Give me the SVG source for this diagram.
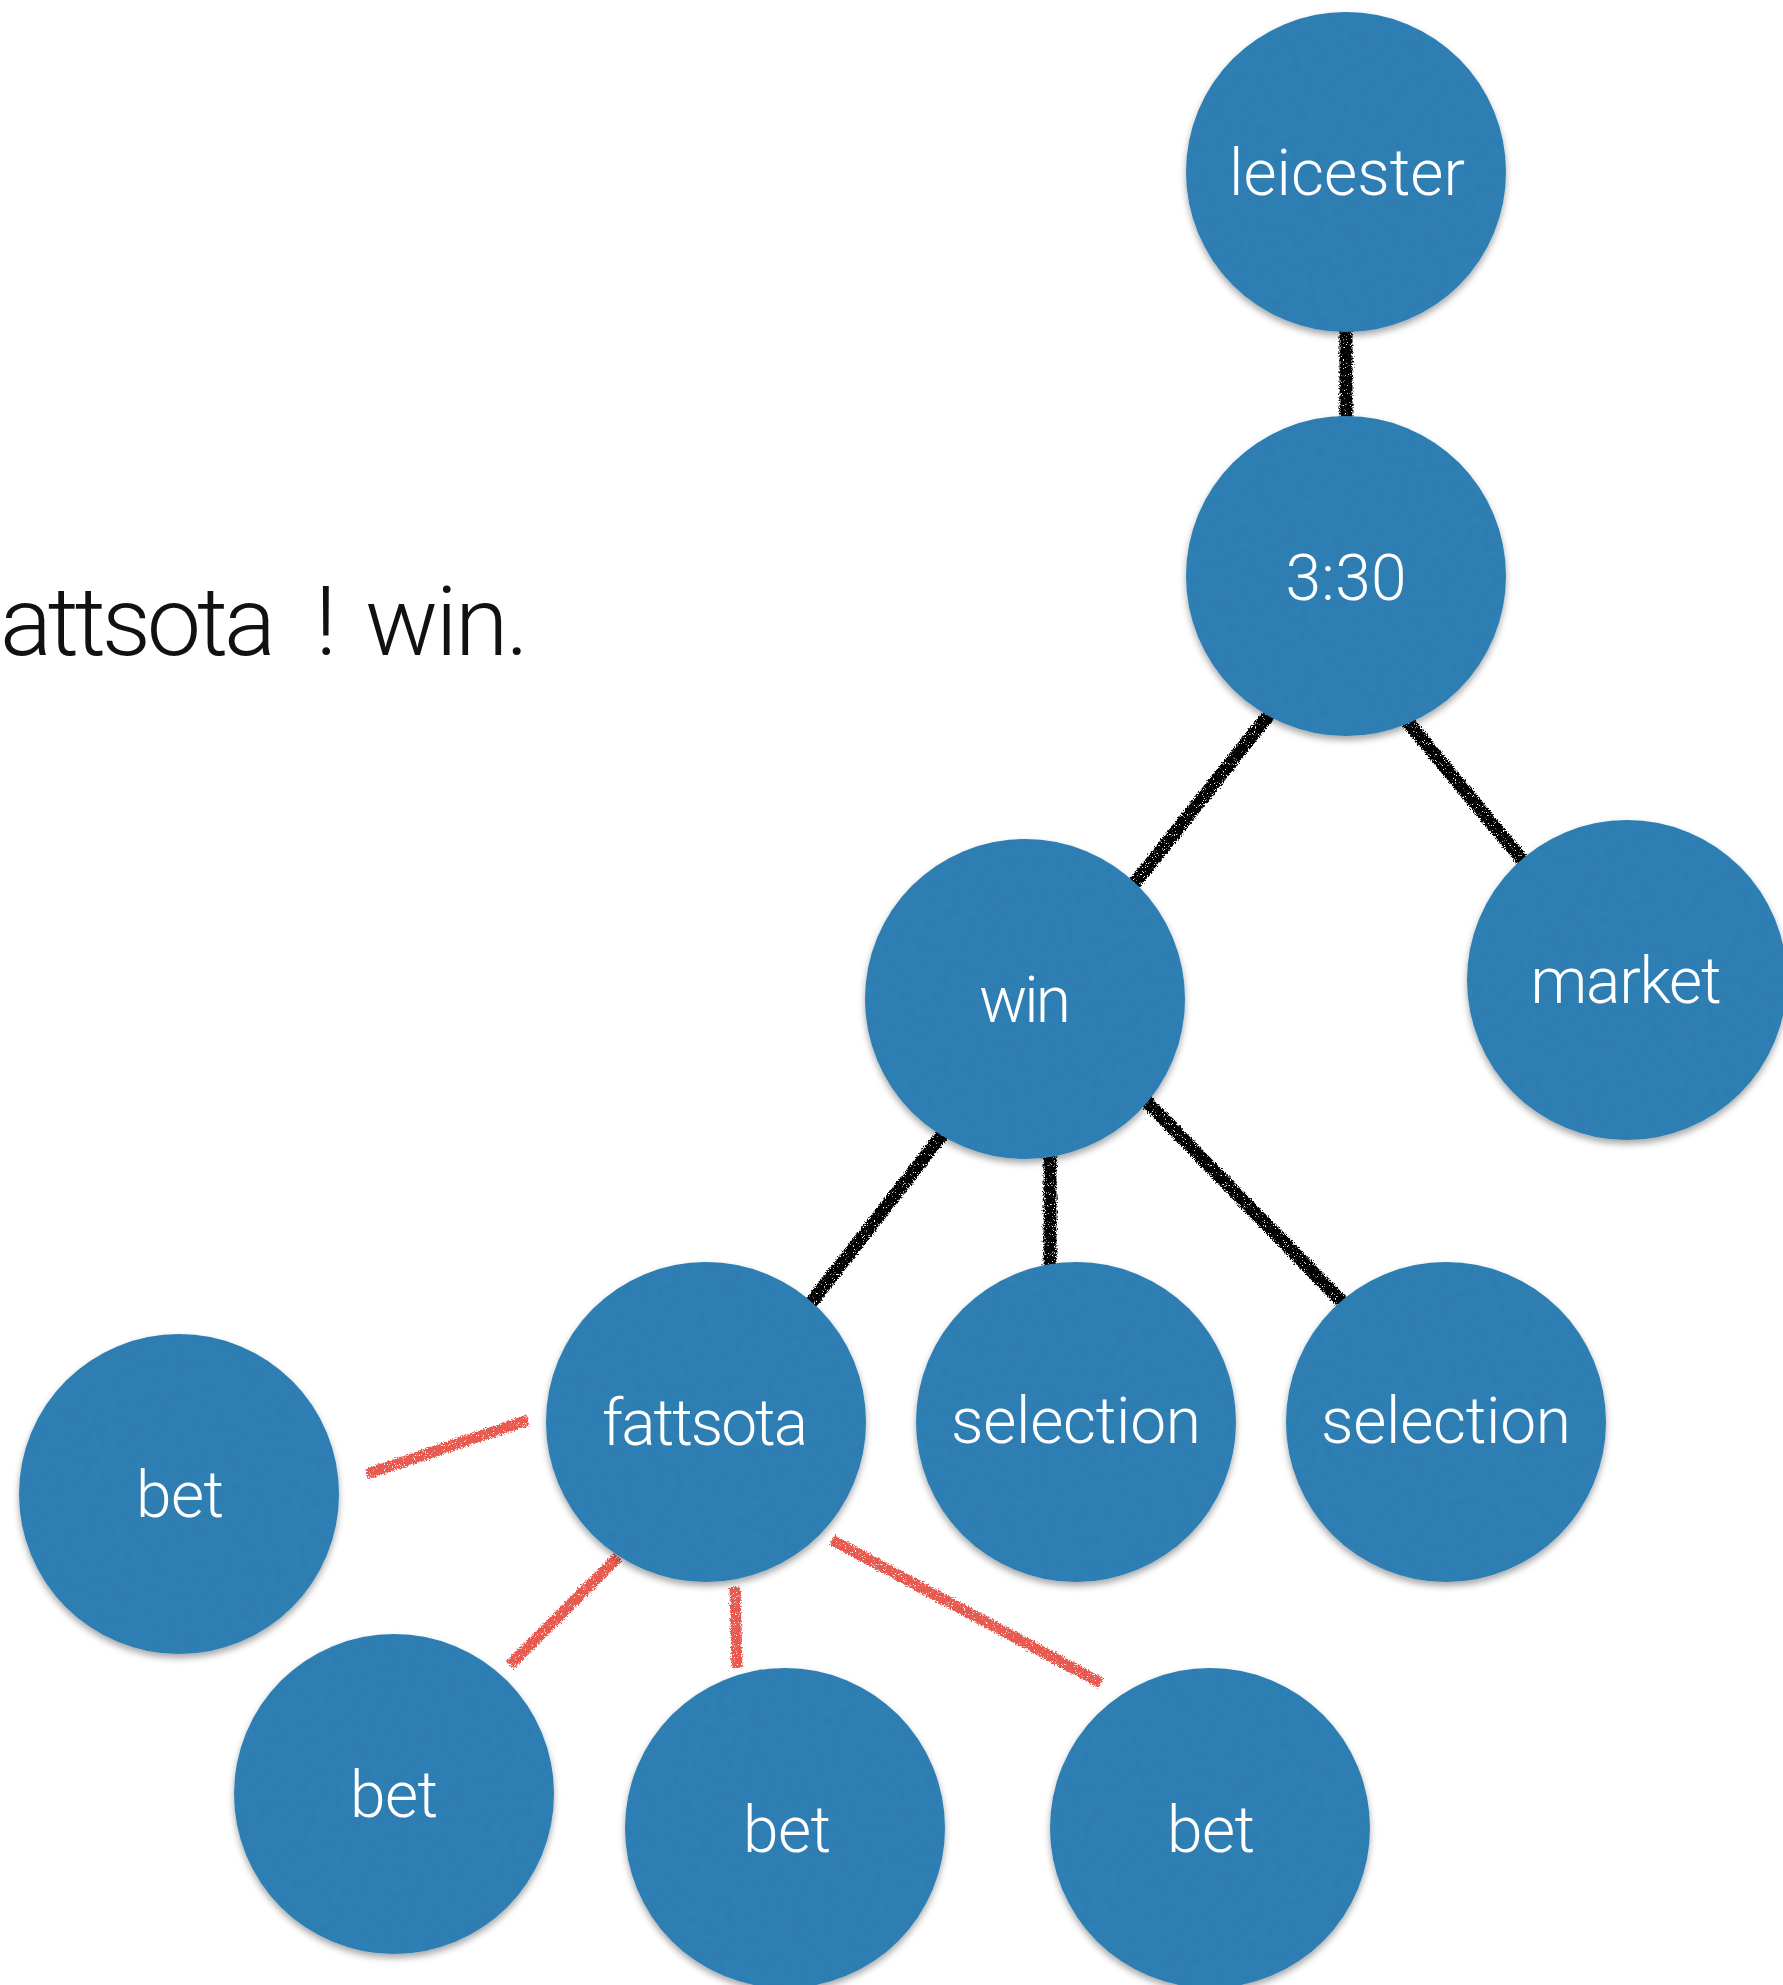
<svg xmlns="http://www.w3.org/2000/svg" width="1783" height="1985" viewBox="0 0 1783 1985">
  <style>
    .node circle { fill: #3281b7; filter: url(#paper); }
    .node text { fill: #ffffff; font-family: "Helvetica Neue", Roboto, Inter, "Liberation Sans", sans-serif; font-weight: 300; font-size: 64px; text-anchor: middle; }
    .edge { fill: none; stroke-linecap: butt; filter: url(#chalk); }
    .edge.black { stroke: #050505; stroke-width: 13; }
    .edge.red { stroke: #e85a50; stroke-width: 11; }
    .caption { fill: #111111; font-family: "Helvetica Neue", Roboto, Inter, "Liberation Sans", sans-serif; font-weight: 300; font-size: 97px; }
  </style>
  <defs>
    <!-- rough, crayon-like edge for the connector strokes (user-space region so vertical lines keep their area) -->
    <filter id="chalk" filterUnits="userSpaceOnUse" x="0" y="0" width="1783" height="1985">
      <feTurbulence type="fractalNoise" baseFrequency="0.7" numOctaves="2" seed="4" result="noise"/>
      <feDisplacementMap in="SourceGraphic" in2="noise" scale="6" xChannelSelector="R" yChannelSelector="G" result="rough"/>
      <feTurbulence type="fractalNoise" baseFrequency="1.1" numOctaves="1" seed="11" result="speck"/>
      <feColorMatrix in="speck" type="matrix" values="0 0 0 0 0  0 0 0 0 0  0 0 0 0 0  0 0 0 -12 8.6" result="holes"/>
      <feComposite in="rough" in2="holes" operator="in"/>
    </filter>
    <!-- mottled paper fill plus a soft shadow under each disc -->
    <filter id="paper" x="-10%" y="-10%" width="120%" height="125%">
      <feTurbulence type="fractalNoise" baseFrequency="0.12" numOctaves="3" seed="9" result="grain"/>
      <feColorMatrix in="grain" type="matrix" values="0 0 0 0 0  0 0 0 0 0.05  0 0 0 0 0.1  0 0 0 0.12 0" result="tint"/>
      <feComposite in="tint" in2="SourceGraphic" operator="in" result="tintIn"/>
      <feMerge result="textured">
        <feMergeNode in="SourceGraphic"/>
        <feMergeNode in="tintIn"/>
      </feMerge>
      <feGaussianBlur in="SourceAlpha" stdDeviation="3.5" result="blur"/>
      <feOffset in="blur" dx="0" dy="4" result="off"/>
      <feComponentTransfer in="off" result="shadow">
        <feFuncA type="linear" slope="0.35"/>
      </feComponentTransfer>
      <feMerge>
        <feMergeNode in="shadow"/>
        <feMergeNode in="textured"/>
      </feMerge>
    </filter>
  </defs>

  <rect width="1783" height="1985" fill="#ffffff"/>

  <text class="caption" y="655"><tspan x="0" textLength="276">attsota</tspan> <tspan x="315">!</tspan> <tspan x="365" textLength="164">win.</tspan></text>

  <g id="connectors">
    <line class="edge black" x1="1346" y1="328" x2="1346" y2="421"/>
    <line class="edge black" x1="1270" y1="713" x2="1134" y2="884"/>
    <line class="edge black" x1="1407" y1="721" x2="1523" y2="861"/>
    <line class="edge black" x1="945" y1="1131" x2="810" y2="1304"/>
    <line class="edge black" x1="1050" y1="1154" x2="1050" y2="1266"/>
    <line class="edge black" x1="1144" y1="1099" x2="1345" y2="1305"/>
    <line class="edge red" x1="528" y1="1420" x2="367" y2="1474"/>
    <line class="edge red" x1="618" y1="1557" x2="510" y2="1665"/>
    <line class="edge red" x1="735" y1="1587" x2="737" y2="1668"/>
    <line class="edge red" x1="832" y1="1540" x2="1101" y2="1683"/>
  </g>

  <g id="leicester" class="node">
    <circle cx="1346" cy="172" r="160"/>
    <text x="1347" y="195" textLength="236">leicester</text>
  </g>
  <g id="n330" class="node">
    <circle cx="1346" cy="576" r="160"/>
    <text x="1346" y="600" textLength="121">3:30</text>
  </g>
  <g id="win" class="node">
    <circle cx="1025" cy="999" r="160"/>
    <text x="1025" y="1022" textLength="92">win</text>
  </g>
  <g id="market" class="node">
    <circle cx="1627" cy="980" r="160"/>
    <text x="1626" y="1003" textLength="191">market</text>
  </g>
  <g id="fattsota" class="node">
    <circle cx="706" cy="1422" r="160"/>
    <text x="705" y="1445" textLength="206">fattsota</text>
  </g>
  <g id="selection1" class="node">
    <circle cx="1076" cy="1422" r="160"/>
    <text x="1076" y="1443" textLength="250">selection</text>
  </g>
  <g id="selection2" class="node">
    <circle cx="1446" cy="1422" r="160"/>
    <text x="1446" y="1443" textLength="250">selection</text>
  </g>
  <g id="bet1" class="node">
    <circle cx="179" cy="1494" r="160"/>
    <text x="180" y="1517" textLength="88">bet</text>
  </g>
  <g id="bet2" class="node">
    <circle cx="394" cy="1794" r="160"/>
    <text x="394" y="1817" textLength="88">bet</text>
  </g>
  <g id="bet3" class="node">
    <circle cx="785" cy="1828" r="160"/>
    <text x="787" y="1852" textLength="88">bet</text>
  </g>
  <g id="bet4" class="node">
    <circle cx="1210" cy="1828" r="160"/>
    <text x="1211" y="1852" textLength="88">bet</text>
  </g>
</svg>
